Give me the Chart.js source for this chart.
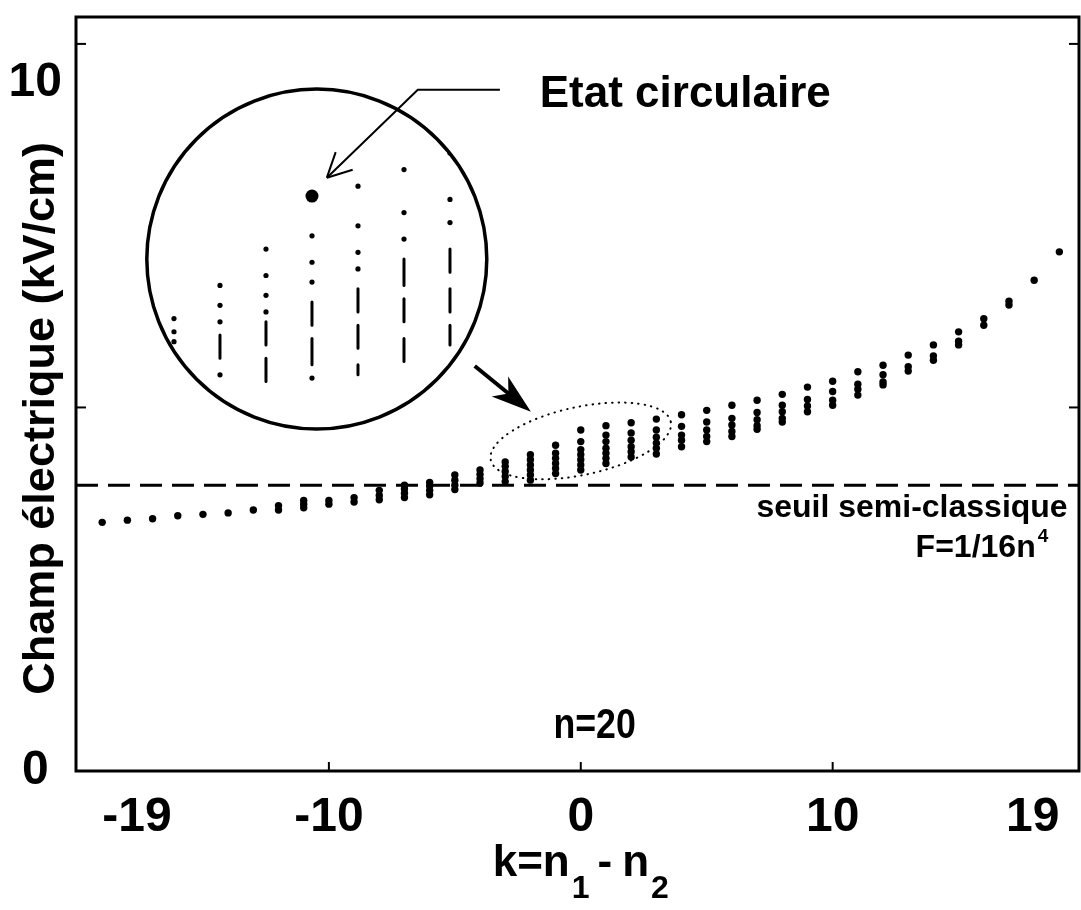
<!DOCTYPE html>
<html>
<head>
<meta charset="utf-8">
<script src="https://cdn.jsdelivr.net/npm/chart.js@4.4.1/dist/chart.umd.min.js"></script>
<style>
  html, body { margin: 0; padding: 0; background: #fff; }
  #wrap { width: 1081px; height: 910px; }
</style>
</head>
<body>
<div id="wrap"><canvas id="c-stark"></canvas></div>
<script>
// Carte Stark n=20 : champ d'ionisation (kV/cm) pour chaque k = n1 - n2
const kValues = [-19, -18, -17, -16, -15, -14, -13, -12, -11, -10, -9, -8, -7, -6, -5, -4, -3, -2, -1,
                 0, 1, 2, 3, 4, 5, 6, 7, 8, 9, 10, 11, 12, 13, 14, 15, 16, 17, 18, 19];
const fieldLevels = [
    [3.42], [3.45], [3.47], [3.51], [3.53], [3.55], [3.59],
    [3.59, 3.65], [3.62, 3.67, 3.72], [3.67, 3.72], [3.70, 3.76],
    [3.73, 3.79, 3.86], [3.76, 3.82, 3.88, 3.93], [3.80, 3.86, 3.92, 3.97],
    [3.87, 3.93, 4.00, 4.07], [3.96, 4.02, 4.08, 4.14],
    [3.98, 4.05, 4.12, 4.19, 4.25], [4.00, 4.07, 4.14, 4.21, 4.28, 4.35],
    [4.09, 4.16, 4.23, 4.30, 4.37, 4.48],
    [4.14, 4.21, 4.28, 4.35, 4.42, 4.53, 4.69],
    [4.23, 4.30, 4.37, 4.44, 4.53, 4.62, 4.75],
    [4.32, 4.39, 4.46, 4.55, 4.65, 4.79],
    [4.36, 4.44, 4.51, 4.59, 4.69, 4.84],
    [4.46, 4.55, 4.62, 4.74, 4.90], [4.53, 4.60, 4.69, 4.80, 4.96],
    [4.60, 4.67, 4.76, 4.85, 5.03], [4.70, 4.75, 4.83, 4.93, 5.10],
    [4.80, 4.85, 4.94, 5.03, 5.18], [4.94, 5.02, 5.11, 5.28],
    [5.03, 5.10, 5.22, 5.36], [5.17, 5.25, 5.32, 5.49], [5.31, 5.35, 5.45, 5.58],
    [5.50, 5.56, 5.72], [5.65, 5.71, 5.86], [5.86, 5.91, 6.04],
    [6.13, 6.22], [6.41, 6.46], [6.75], [7.14]
];
const seuil = 3.93; // F = 1/16n^4

// zoom (cercle) : colonnes k = -3..3
const insetK = [-3, -2, -1, 0, 1, 2, 3];
const insetDots = [
    [4.25, 4.28, 4.32], [4.15, 4.31, 4.36, 4.42], [4.34, 4.39, 4.45, 4.53],
    [4.14, 4.43, 4.49, 4.57], [4.47, 4.52, 4.60, 4.72], [4.56, 4.64, 4.77], [4.61, 4.68, 4.82]
];
const insetDashes = [
    [], [[4.20, 4.27]], [[4.13, 4.20], [4.24, 4.31]], [[4.18, 4.26], [4.30, 4.37]],
    [[4.15, 4.18], [4.23, 4.30], [4.34, 4.41]], [[4.19, 4.26], [4.31, 4.38], [4.42, 4.50]],
    [[4.24, 4.30], [4.34, 4.41], [4.46, 4.53]]
];
const circularState = { k: 0, F: 4.69 };

const xTicks = [-19, -10, 0, 10, 19];
const yTicks = [0, 10];
const X_MIN = -20.04, X_MAX = 19.78;

document.addEventListener('DOMContentLoaded', () => {
    const FONT = "'Liberation Sans', Arial, sans-serif";
    Chart.defaults.font.family = FONT;
    Chart.defaults.color = '#000';

    const levelPts = [];
    kValues.forEach((k, i) => fieldLevels[i].forEach(F => levelPts.push({ x: k, y: F })));

    const insetDotPts = [], insetDashPts = [];
    insetK.forEach((k, i) => {
        insetDots[i].forEach(F => insetDotPts.push({ x: k, y: F }));
        insetDashes[i].forEach(([lo, hi]) => {
            insetDashPts.push({ x: k, y: hi }, { x: k, y: lo }, { x: k, y: null });
        });
    });

    function insetGeom(chart) {
        const { x, y } = chart.scales;
        return { cx: x.getPixelForValue(-10.48), cy: y.getPixelForValue(7.04), r: 170 };
    }

    const overlay = {
        id: 'overlay',
        beforeDatasetDraw(chart, args) {
            const ds = chart.data.datasets[args.index];
            if (ds.xAxisID !== 'xi') return;
            const g = insetGeom(chart);
            chart.ctx.save();
            chart.ctx.beginPath();
            chart.ctx.arc(g.cx, g.cy, g.r - 1, 0, Math.PI * 2);
            chart.ctx.clip();
        },
        afterDatasetDraw(chart, args) {
            const ds = chart.data.datasets[args.index];
            if (ds.xAxisID !== 'xi') return;
            chart.ctx.restore();
        },
        afterDraw(chart) {
            const { ctx, chartArea: a, scales: { x, y } } = chart;
            const X = v => x.getPixelForValue(v), Y = v => y.getPixelForValue(v);
            const line = (x0, y0, x1, y1) => { ctx.beginPath(); ctx.moveTo(x0, y0); ctx.lineTo(x1, y1); ctx.stroke(); };
            ctx.save();
            ctx.strokeStyle = '#000';
            ctx.fillStyle = '#000';

            // cadre + graduations intérieures
            ctx.lineWidth = 3;
            ctx.strokeRect(a.left, a.top, a.right - a.left, a.bottom - a.top);
            ctx.lineWidth = 2;
            [-10, 0, 10].forEach(k => line(X(k), a.bottom, X(k), a.bottom - 9));
            [5, 10].forEach(v => { line(a.left, Y(v), a.left + 10, Y(v)); line(a.right, Y(v), a.right - 10, Y(v)); });

            // cercle du zoom
            const g = insetGeom(chart);
            ctx.lineWidth = 3.5;
            ctx.beginPath(); ctx.arc(g.cx, g.cy, g.r, 0, Math.PI * 2); ctx.stroke();

            // ellipse pointillée
            ctx.save();
            ctx.lineWidth = 2; ctx.lineCap = 'round'; ctx.setLineDash([0.5, 6]);
            ctx.beginPath();
            ctx.ellipse(X(0), Y(4.54), 92, 34, -12 * Math.PI / 180, 0, Math.PI * 2);
            ctx.stroke();
            ctx.restore();

            // grosse flèche vers l'ellipse
            const x0 = X(-4.21), y0 = Y(5.57), x1 = X(-1.98), y1 = Y(4.94);
            const ang = Math.atan2(y1 - y0, x1 - x0);
            ctx.lineWidth = 4;
            line(x0, y0, x1 - Math.cos(ang) * 25, y1 - Math.sin(ang) * 25);
            ctx.save();
            ctx.translate(x1, y1); ctx.rotate(ang);
            ctx.beginPath();
            ctx.moveTo(0, 0); ctx.lineTo(-40, -13); ctx.lineTo(-29, 0); ctx.lineTo(-40, 13);
            ctx.closePath(); ctx.fill();
            ctx.restore();

            // flèche fine "Etat circulaire"
            ctx.lineWidth = 2;
            const tx = X(-10.08), ty = Y(8.16), mx = X(-6.47), my = Y(9.37);
            ctx.beginPath(); ctx.moveTo(X(-3.21), Y(9.37)); ctx.lineTo(mx, my); ctx.lineTo(tx, ty); ctx.stroke();
            const back = Math.atan2(my - ty, mx - tx);
            [-0.47, 0.47].forEach(d => line(tx, ty, tx + 27 * Math.cos(back + d), ty + 27 * Math.sin(back + d)));

            // textes
            ctx.textBaseline = 'middle';
            ctx.textAlign = 'left';
            ctx.font = `bold 44px ${FONT}`;
            ctx.fillText('Etat circulaire', X(-1.63), Y(9.30));

            ctx.save();
            ctx.translate(X(0.55), Y(0.61));
            ctx.scale(0.85, 1);
            ctx.textAlign = 'center';
            ctx.font = `bold 42px ${FONT}`;
            ctx.fillText('n=20', 0, 0);
            ctx.restore();

            ctx.textAlign = 'right';
            ctx.font = `bold 32px ${FONT}`;
            ctx.fillText('seuil semi-classique', X(19.33), Y(3.62));
            ctx.fillText('F=1/16n', X(18.06), Y(3.07));
            ctx.textAlign = 'left';
            ctx.font = `bold 19px ${FONT}`;
            ctx.fillText('4', X(18.06) + 2, Y(3.07) - 11);

            // titre axe y
            ctx.save();
            ctx.translate(a.left - 34, Y(4.85));
            ctx.rotate(-Math.PI / 2);
            ctx.textAlign = 'center';
            ctx.font = `bold 45px ${FONT}`;
            ctx.fillText('Champ électrique (kV/cm)', 0, 0);
            ctx.restore();

            // titre axe x : k=n1 - n2 (centré sous k=0)
            ctx.textBaseline = 'alphabetic';
            ctx.textAlign = 'left';
            const big = `bold 44px ${FONT}`, small = `bold 32px ${FONT}`;
            const parts = [['k=n', big, 0, 2], ['1', small, 22, 8], ['-', big, 0, 10], ['n', big, 0, 2], ['2', small, 22, 0]];
            let total = 0;
            parts.forEach(p => { ctx.font = p[1]; total += ctx.measureText(p[0]).width + p[3]; });
            const base = a.bottom + 105;
            let cx = X(0) - total / 2;
            parts.forEach(p => {
                ctx.font = p[1];
                ctx.fillText(p[0], cx, base + p[2]);
                cx += ctx.measureText(p[0]).width + p[3];
            });

            ctx.restore();
        }
    };

    new Chart(document.getElementById('c-stark'), {
        type: 'scatter',
        data: { datasets: [
            { label: 'seuil', data: [{ x: X_MIN, y: seuil }, { x: X_MAX, y: seuil }], showLine: true,
              borderColor: '#000', borderWidth: 3, borderDash: [22, 10], pointRadius: 0 },
            { label: 'niveaux', data: levelPts, pointRadius: 3.7, backgroundColor: '#000', borderWidth: 0 },
            { label: 'zoom points', data: insetDotPts, xAxisID: 'xi', yAxisID: 'yi',
              pointRadius: 2.6, backgroundColor: '#000', borderWidth: 0 },
            { label: 'zoom traits', data: insetDashPts, xAxisID: 'xi', yAxisID: 'yi', showLine: true,
              spanGaps: false, pointRadius: 0, borderColor: '#000', borderWidth: 3, borderCapStyle: 'round' },
            { label: 'etat circulaire', data: [{ x: circularState.k, y: circularState.F }], xAxisID: 'xi', yAxisID: 'yi',
              pointRadius: 6.5, backgroundColor: '#000', borderWidth: 0 }
        ] },
        options: {
            responsive: true, maintainAspectRatio: false, animation: false,
            layout: { autoPadding: false, padding: { left: 8.6, right: 2, top: 17, bottom: 68 } },
            plugins: { legend: { display: false }, tooltip: { enabled: false } },
            scales: {
                x: {
                    type: 'linear', position: 'bottom', min: X_MIN, max: X_MAX,
                    grid: { display: false, drawTicks: false }, border: { display: false },
                    afterBuildTicks: s => { s.ticks = xTicks.map(v => ({ value: v })); },
                    afterFit: s => { s.paddingLeft = 0; s.paddingRight = 0; s.height = 71; },
                    ticks: { font: { size: 48, weight: 'bold', lineHeight: 1 }, padding: 23, maxRotation: 0, autoSkip: false,
                             align: 'inner', callback: v => String(v) }
                },
                y: { type: 'linear', min: 0, max: 10.37, display: false },
                yl: {
                    type: 'linear', position: 'left', min: 0, max: 10.96,
                    grid: { display: false, drawTicks: false }, border: { display: false },
                    afterBuildTicks: s => { s.ticks = yTicks.map(v => ({ value: v })); },
                    afterFit: s => { s.paddingTop = 0; s.paddingBottom = 0; s.width = 67.4; },
                    ticks: { font: { size: 48, weight: 'bold', lineHeight: 1 }, padding: 14, crossAlign: 'center',
                             callback: v => String(v) }
                },
                xi: { type: 'linear', min: -5.13, max: 16.674, display: false },
                yi: { type: 'linear', min: 2.953, max: 5.231, display: false }
            }
        },
        plugins: [overlay]
    });
});
</script>
</body>
</html>
